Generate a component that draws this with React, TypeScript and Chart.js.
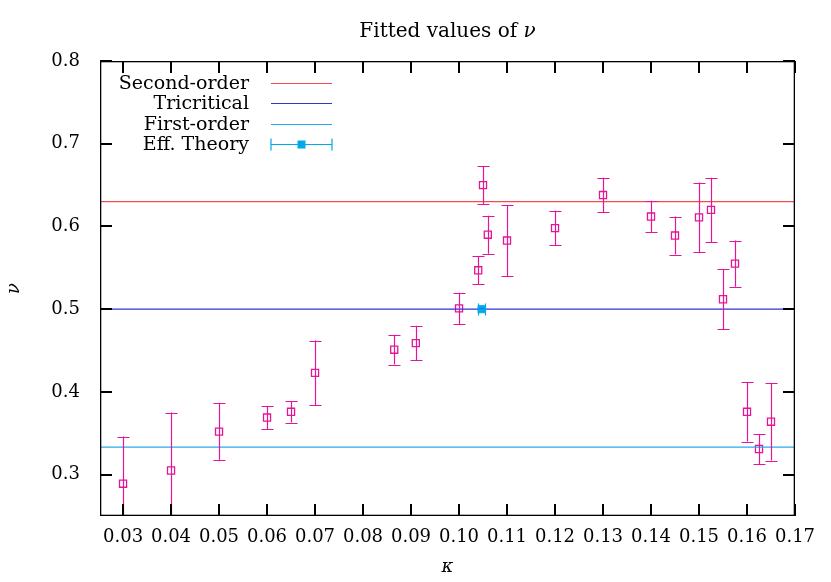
import React, { useEffect, useRef } from 'react';
import { Chart, registerables } from 'chart.js';

Chart.register(...registerables);

// ---- data ----
const kappa = [0.03, 0.04, 0.05, 0.06, 0.065, 0.07, 0.0865, 0.091, 0.10, 0.104, 0.105, 0.106, 0.11, 0.12, 0.13, 0.14, 0.145, 0.15, 0.1525, 0.155, 0.1575, 0.16, 0.1625, 0.165];
const nu = [0.289, 0.305, 0.352, 0.369, 0.376, 0.423, 0.451, 0.459, 0.501, 0.547, 0.650, 0.590, 0.583, 0.598, 0.638, 0.612, 0.589, 0.611, 0.620, 0.512, 0.555, 0.376, 0.331, 0.364];
const nuErr = [0.057, 0.070, 0.034, 0.014, 0.013, 0.039, 0.018, 0.021, 0.019, 0.017, 0.023, 0.023, 0.043, 0.021, 0.021, 0.019, 0.023, 0.042, 0.039, 0.036, 0.028, 0.036, 0.018, 0.047];

const effKappa = [0.1047];
const effNu = [0.5];
const effKappaErr = [0.0008];

const secondOrderNu = 0.63;
const tricriticalNu = 0.5;
const firstOrderNu = 1 / 3;

const xTicks = [0.03, 0.04, 0.05, 0.06, 0.07, 0.08, 0.09, 0.10, 0.11, 0.12, 0.13, 0.14, 0.15, 0.16, 0.17];
const yTicks = [0.3, 0.4, 0.5, 0.6, 0.7, 0.8];

const X_MIN = 0.0252;
const X_MAX = 0.17;
const Y_MIN = 0.25;
const Y_MAX = 0.8;

const FONT = "'DejaVu Serif', serif";
const C_DATA = 'rgb(228,22,150)';
const C_SECOND = 'rgb(245,75,75)';
const C_TRI = 'rgb(50,50,215)';
const C_FIRST = 'rgb(40,170,235)';
const C_EFF = 'rgb(0,170,235)';

const TICK_LEN = 12;

const framePlugin = {
  id: 'frame',
  afterDraw(chart: any) {
    const ctx = chart.ctx;
    const a = chart.chartArea;
    const sx = chart.scales.x;
    const sy = chart.scales.y;
    const L = Math.round(a.left);
    const R = Math.round(a.right);
    const T = Math.round(a.top);
    const B = Math.round(a.bottom);
    ctx.save();
    ctx.globalAlpha = 1;
    ctx.globalCompositeOperation = 'source-over';
    ctx.fillStyle = '#000000';
    ctx.fillRect(L, T, R - L, 1.3);
    ctx.fillRect(L, B - 1.3, R - L, 1.3);
    ctx.fillRect(L, T, 1.3, B - T);
    ctx.fillRect(R - 1.3, T, 1.3, B - T);
    for (let i = 0; i < xTicks.length; i++) {
      const px = Math.round(sx.getPixelForValue(xTicks[i]));
      ctx.fillRect(px - 1, B - TICK_LEN, 2, TICK_LEN);
      ctx.fillRect(px - 1, T, 2, TICK_LEN);
    }
    for (let i = 0; i < yTicks.length; i++) {
      const py = Math.round(sy.getPixelForValue(yTicks[i]));
      ctx.fillRect(L, py - 1, TICK_LEN, 2);
      ctx.fillRect(R - TICK_LEN, py - 1, TICK_LEN, 2);
    }
    ctx.restore();
  },
};

const errorBarPlugin = {
  id: 'errorBars',
  afterDatasetsDraw(chart: any) {
    const { ctx, chartArea: a, scales } = chart;
    ctx.save();
    ctx.beginPath();
    ctx.rect(a.left, a.top, a.width, a.height);
    ctx.clip();
    chart.data.datasets.forEach((ds: any) => {
      ctx.strokeStyle = ds.borderColor;
      ctx.lineWidth = 1.2;
      ds.data.forEach((p: any, i: number) => {
        if (ds.yErr) {
          const e = ds.yErr[i];
          const px = Math.round(scales.x.getPixelForValue(p.x)) + 0.5;
          const y1 = scales.y.getPixelForValue(p.y - e);
          const y2 = scales.y.getPixelForValue(p.y + e);
          ctx.beginPath();
          ctx.moveTo(px, y1); ctx.lineTo(px, y2);
          ctx.moveTo(px - 6, Math.round(y1) + 0.5); ctx.lineTo(px + 6, Math.round(y1) + 0.5);
          ctx.moveTo(px - 6, Math.round(y2) + 0.5); ctx.lineTo(px + 6, Math.round(y2) + 0.5);
          ctx.stroke();
        }
        if (ds.xErr) {
          const e = ds.xErr[i];
          const py = Math.round(scales.y.getPixelForValue(p.y)) + 0.5;
          const x1 = Math.round(scales.x.getPixelForValue(p.x - e)) + 0.5;
          const x2 = Math.round(scales.x.getPixelForValue(p.x + e)) + 0.5;
          ctx.beginPath();
          ctx.moveTo(x1, py); ctx.lineTo(x2, py);
          ctx.moveTo(x1, py - 6); ctx.lineTo(x1, py + 6);
          ctx.moveTo(x2, py - 6); ctx.lineTo(x2, py + 6);
          ctx.stroke();
        }
      });
    });
    ctx.restore();
  },
};

const titlePlugin = {
  id: 'mathTitle',
  afterDraw(chart: any) {
    const { ctx, chartArea: a } = chart;
    const cx = (a.left + a.right) / 2;
    ctx.save();
    ctx.fillStyle = '#000';
    ctx.textBaseline = 'alphabetic';
    const f1 = `20px ${FONT}`;
    const f2 = `italic 20px ${FONT}`;
    const t1 = 'Fitted values of ';
    const t2 = 'ν';
    ctx.font = f1; const w1 = ctx.measureText(t1).width;
    ctx.font = f2; const w2 = ctx.measureText(t2).width;
    const x0 = cx - (w1 + w2) / 2;
    ctx.font = f1; ctx.textAlign = 'left'; ctx.fillText(t1, x0, 37);
    ctx.font = f2; ctx.fillText(t2, x0 + w1, 37);
    ctx.restore();
  },
};

const legendPlugin = {
  id: 'gpLegend',
  afterDraw(chart: any) {
    const { ctx, chartArea: a } = chart;
    const textRight = a.left + 149;
    const s0 = a.left + 171, s1 = a.left + 232;
    const rows = chart.data.datasets.filter((d: any) => d.legendRow !== undefined);
    ctx.save();
    ctx.font = `19px ${FONT}`;
    ctx.textAlign = 'right';
    ctx.textBaseline = 'middle';
    rows.forEach((d: any) => {
      const y = Math.round(a.top + 22 + d.legendRow * 20.4) + 0.5;
      ctx.fillStyle = '#000';
      ctx.fillText(d.label, textRight, y + 1);
      ctx.strokeStyle = d.borderColor;
      ctx.lineWidth = 1.2;
      ctx.beginPath();
      ctx.moveTo(s0, y); ctx.lineTo(s1, y);
      if (d.xErr) {
        ctx.moveTo(s0, y - 6); ctx.lineTo(s0, y + 6);
        ctx.moveTo(s1, y - 6); ctx.lineTo(s1, y + 6);
      }
      ctx.stroke();
      if (d.xErr) {
        ctx.fillStyle = d.backgroundColor;
        const m = (s0 + s1) / 2;
        ctx.fillRect(m - 4, y - 4, 8, 8);
      }
    });
    ctx.restore();
  },
};

const hline = (v: number) => [{ x: X_MIN, y: v }, { x: X_MAX, y: v }];

export default function App() {
  const ref = useRef<HTMLCanvasElement>(null);
  useEffect(() => {
    if (!ref.current) return;
    const chart = new Chart(ref.current, {
      type: 'scatter',
      data: {
        datasets: [
          {
            type: 'line', label: 'Second-order', data: hline(secondOrderNu), legendRow: 0,
            borderColor: C_SECOND, borderWidth: 1.3, pointRadius: 0, fill: false,
          } as any,
          {
            type: 'line', label: 'Tricritical', data: hline(tricriticalNu), legendRow: 1,
            borderColor: C_TRI, borderWidth: 1.3, pointRadius: 0, fill: false,
          } as any,
          {
            type: 'line', label: 'First-order', data: hline(firstOrderNu), legendRow: 2,
            borderColor: C_FIRST, borderWidth: 1.3, pointRadius: 0, fill: false,
          } as any,
          {
            type: 'scatter', label: 'Eff. Theory', legendRow: 3,
            data: effKappa.map((k, i) => ({ x: k, y: effNu[i] })),
            xErr: effKappaErr,
            borderColor: C_EFF, backgroundColor: C_EFF, pointStyle: 'rect', pointRadius: 5, borderWidth: 1,
          } as any,
          {
            type: 'scatter', label: 'nu',
            data: kappa.map((k, i) => ({ x: k, y: nu[i] })),
            yErr: nuErr,
            borderColor: C_DATA, backgroundColor: 'rgba(0,0,0,0)', pointStyle: 'rect', pointRadius: 5, borderWidth: 1.3,
          } as any,
        ],
      },
      options: {
        responsive: false,
        animation: false,
        layout: { padding: { top: 61, right: 36, left: 0, bottom: 0 } },
        plugins: { legend: { display: false }, title: { display: false }, tooltip: { enabled: false } },
        scales: {
          x: {
            type: 'linear', min: X_MIN, max: X_MAX,
            grid: { display: false, drawTicks: false },
            border: { display: false },
            afterBuildTicks: (s: any) => { s.ticks = xTicks.map((v) => ({ value: v })); },
            afterFit: (s: any) => { s.height = 66; },
            ticks: {
              color: '#000', font: { family: FONT, size: 18 }, padding: 11,
              maxRotation: 0, autoSkip: false,
              callback: (v: any) => Number(v).toFixed(2),
            },
            title: { display: true, text: 'κ', color: '#000', font: { family: FONT, size: 18, style: 'italic' }, padding: 4 },
          },
          y: {
            type: 'linear', min: Y_MIN, max: Y_MAX,
            grid: { display: false, drawTicks: false },
            border: { display: false },
            afterBuildTicks: (s: any) => { s.ticks = yTicks.map((v) => ({ value: v })); },
            afterFit: (s: any) => { s.width = 100; },
            ticks: {
              color: '#000', font: { family: FONT, size: 18 }, padding: 20,
              autoSkip: false,
              callback: (v: any) => Number(v).toFixed(1),
            },
            title: { display: true, text: 'ν', color: '#000', font: { family: FONT, size: 18, style: 'italic' }, padding: 4 },
          },
        },
      } as any,
      plugins: [framePlugin, errorBarPlugin, titlePlugin, legendPlugin],
    });
    return () => chart.destroy();
  }, []);
  return (
    <div style={{ position: 'absolute', left: 0, top: 0, width: 831, height: 582, background: '#fff' }}>
      <canvas ref={ref} width={831} height={582} />
    </div>
  );
}
